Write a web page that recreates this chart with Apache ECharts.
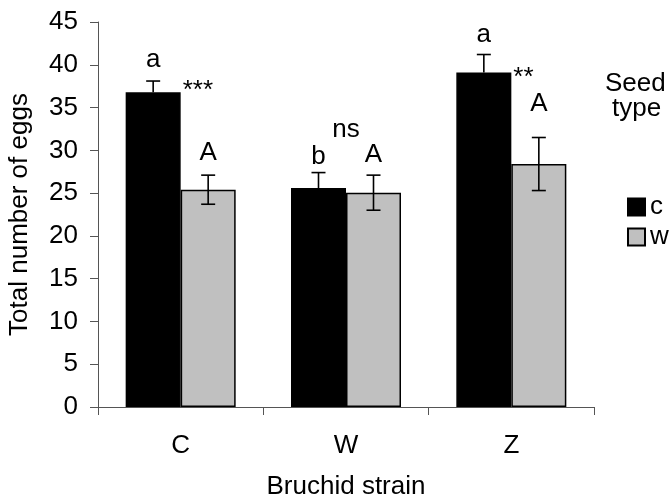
<!DOCTYPE html>
<html>
<head>
<meta charset="utf-8">
<script src="https://cdn.jsdelivr.net/npm/echarts@6/dist/echarts.min.js"></script>
<style>html,body{margin:0;padding:0;background:#fff;}#chart{width:669px;height:497px;}</style>
</head>
<body>
<div id="chart"></div>
<script>
// ---- data ----
const categories = ['C', 'W', 'Z'];
const seedTypes = ['c', 'w'];
const cMeans = [36.8, 25.6, 39.1];
const cErr = [1.3, 1.8, 2.1];
const wMeans = [25.4, 25.05, 28.4];
const wErr = [1.7, 2.05, 3.1];
const cLetters = ['a', 'b', 'a'];
const cLetterY = [40.6, 29.2, 43.5];
const wLetters = ['A', 'A', 'A'];
const wLetterY = [29.7, 29.45, 35.4];
const signifText = ['***', 'ns', '**'];
const signifY = [37.0, 32.4, 38.5];
const yTicks = [0, 5, 10, 15, 20, 25, 30, 35, 40, 45];

const FONT = 'Liberation Sans, Arial, sans-serif';
const FS = 26;
const BAR_W = 55;
const GREY = '#c0c0c0';

const chart = echarts.init(document.getElementById('chart'), null, {renderer: 'canvas'});

function errRender(onlyUp, side) {
  return function (params, api) {
    const i = api.value(0), m = api.value(1), e = api.value(2);
    const top = api.coord([i, m + e]);
    const bot = api.coord([i, onlyUp ? m : m - e]);
    const x = top[0] + side * BAR_W / 2;
    const cap = 7;
    const style = {stroke: '#000', lineWidth: 1.6};
    const kids = [
      {type: 'line', shape: {x1: x, y1: top[1], x2: x, y2: bot[1]}, style},
      {type: 'line', shape: {x1: x - cap, y1: top[1], x2: x + cap, y2: top[1]}, style}
    ];
    if (!onlyUp) kids.push({type: 'line', shape: {x1: x - cap, y1: bot[1], x2: x + cap, y2: bot[1]}, style});
    return {type: 'group', children: kids};
  };
}

const annData = [];
categories.forEach((c, i) => {
  annData.push([i, cLetterY[i], cLetters[i], -1]);
  annData.push([i, wLetterY[i], wLetters[i], 1]);
  annData.push([i, signifY[i], signifText[i], signifText[i] === 'ns' ? 0 : 2]);
});

function annRender(params, api) {
  const d = annData[params.dataIndex];
  const p = api.coord([d[0], d[1]]);
  let x = p[0], align = 'center';
  if (d[3] === -1) x = p[0] - BAR_W / 2;
  else if (d[3] === 1) x = p[0] + BAR_W / 2;
  else if (d[3] === 2) { x = p[0] + 2; align = 'left'; }
  return {
    type: 'text',
    x: x, y: p[1],
    style: {text: d[2], fill: '#000', font: FS + 'px ' + FONT, align: align, verticalAlign: 'middle'}
  };
}

const option = {
  animation: false,
  backgroundColor: '#fff',
  grid: {left: 98, right: 75, top: 22, bottom: 90, containLabel: false, outerBoundsMode: 'none'},
  legend: {
    data: seedTypes,
    orient: 'vertical',
    left: 627, top: 194,
    itemWidth: 17, itemHeight: 17, itemGap: 4,
    padding: 0,
    icon: 'rect',
    textStyle: {fontFamily: FONT, fontSize: FS, color: '#000'}
  },
  graphic: [
    {type: 'text', left: 605, top: 71, style: {text: 'Seed', font: FS + 'px ' + FONT, fill: '#000'}},
    {type: 'text', left: 612, top: 96, style: {text: 'type', font: FS + 'px ' + FONT, fill: '#000'}}
  ],
  xAxis: {
    type: 'category',
    data: categories,
    name: 'Bruchid strain',
    nameLocation: 'middle',
    nameGap: 67,
    nameTextStyle: {fontFamily: FONT, fontSize: FS, color: '#000'},
    axisLine: {lineStyle: {color: '#555', width: 1}},
    axisTick: {show: true, inside: false, length: 8, alignWithLabel: false, lineStyle: {color: '#555'}},
    axisLabel: {fontFamily: FONT, fontSize: FS, color: '#000', margin: 26},
    splitLine: {show: false}
  },
  yAxis: {
    type: 'value',
    min: 0, max: 45, interval: 5,
    name: 'Total number of eggs',
    nameLocation: 'middle',
    nameRotate: 90,
    nameGap: 65,
    nameTextStyle: {fontFamily: FONT, fontSize: FS, color: '#000'},
    axisLine: {show: true, lineStyle: {color: '#555', width: 1}},
    axisTick: {show: true, inside: false, length: 8, lineStyle: {color: '#555'}},
    axisLabel: {fontFamily: FONT, fontSize: FS, color: '#000', margin: 20,
      formatter: v => (yTicks.indexOf(v) >= 0 ? String(v) : '')},
    splitLine: {show: false}
  },
  series: [
    {
      name: 'c', type: 'bar', data: cMeans, barWidth: BAR_W, barGap: '0%',
      itemStyle: {color: '#000', borderColor: '#000', borderWidth: 1.5}
    },
    {
      name: 'w', type: 'bar', data: wMeans, barWidth: BAR_W, barGap: '0%',
      itemStyle: {color: GREY, borderColor: '#000', borderWidth: 1.5}
    },
    {
      type: 'custom', name: 'errC', renderItem: errRender(true, -1), z: 10,
      data: cMeans.map((m, i) => [i, m, cErr[i]])
    },
    {
      type: 'custom', name: 'errW', renderItem: errRender(false, 1), z: 10,
      data: wMeans.map((m, i) => [i, m, wErr[i]])
    },
    {
      type: 'custom', name: 'ann', renderItem: annRender, z: 11,
      data: annData.map(d => [d[0], d[1]])
    }
  ]
};
chart.setOption(option);
</script>
</body>
</html>
